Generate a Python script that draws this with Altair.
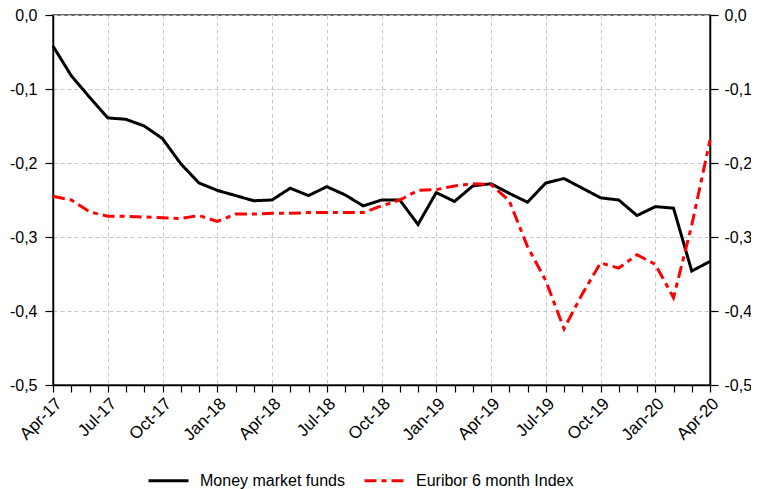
import altair as alt
import pandas as pd

months = ["Apr-17", "May-17", "Jun-17", "Jul-17", "Aug-17", "Sep-17", "Oct-17", "Nov-17", "Dec-17",
          "Jan-18", "Feb-18", "Mar-18", "Apr-18", "May-18", "Jun-18", "Jul-18", "Aug-18", "Sep-18",
          "Oct-18", "Nov-18", "Dec-18", "Jan-19", "Feb-19", "Mar-19", "Apr-19", "May-19", "Jun-19",
          "Jul-19", "Aug-19", "Sep-19", "Oct-19", "Nov-19", "Dec-19", "Jan-20", "Feb-20", "Mar-20",
          "Apr-20"]

money_market = [-0.042, -0.082, -0.111, -0.139, -0.141, -0.150, -0.167, -0.201, -0.227,
                -0.237, -0.244, -0.251, -0.250, -0.234, -0.244, -0.232, -0.243, -0.258,
                -0.250, -0.250, -0.283, -0.240, -0.252, -0.231, -0.228, -0.241, -0.253,
                -0.227, -0.221, -0.234, -0.247, -0.250, -0.271, -0.259, -0.261, -0.346,
                -0.333]

euribor = [-0.245, -0.250, -0.266, -0.272, -0.272, -0.273, -0.274, -0.275, -0.271,
           -0.279, -0.269, -0.269, -0.268, -0.268, -0.267, -0.267, -0.267, -0.267,
           -0.258, -0.250, -0.237, -0.236, -0.231, -0.228, -0.229, -0.251, -0.313,
           -0.359, -0.424, -0.377, -0.335, -0.342, -0.324, -0.337, -0.382, -0.284,
           -0.169]

series_names = ["Money market funds", "Euribor 6 month Index"]
series_colors = ["#000000", "#ff0000"]
series_dashes = [[1, 0], [12, 5, 5, 5]]
y_ticks = [-0.5, -0.4, -0.3, -0.2, -0.1, 0.0]

rows = []
for name, vals in zip(series_names, [money_market, euribor]):
    for m, v in zip(months, vals):
        rows.append({"month": m, "series": name, "value": v})
df = pd.DataFrame(rows)

quarter_test = "indexof(['Jan','Apr','Jul','Oct'], slice(datum.value, 0, 3)) >= 0"
ylabel = ("datum.value < -0.00001 ? '-' + replace(format(-datum.value, '.1f'), '.', ',') "
          ": replace(format(abs(datum.value), '.1f'), '.', ',')")

yscale = alt.Scale(domain=[-0.5, 0], nice=False, zero=False)
xscale = alt.Scale(type="point", padding=0)

x_axis = alt.Axis(
    title=None,
    orient="bottom",
    labelAngle=315,
    labelFontSize=17,
    labelExpr=f"{quarter_test} ? datum.value : ''",
    grid=True,
    gridDash=[4, 3],
    gridColor="#c8c8c8",
    gridOpacity={"condition": {"test": quarter_test, "value": 1}, "value": 0},
    tickSize=7,
    labelPadding=3,
    labelOverlap=False,
)

legend = alt.Legend(
    title=None,
    orient="none",
    legendX=94,
    legendY=444,
    direction="horizontal",
    symbolType="stroke",
    symbolSize=1600,
    symbolStrokeWidth=3,
    labelFontSize=16,
    labelFont="Liberation Sans",
    labelColor="#000000",
    columnPadding=13,
    labelOffset=10,
    padding=0,
)

base = alt.Chart(df)

x_enc = alt.X("month:O", sort=months, scale=xscale, axis=x_axis)

lines = base.mark_line(strokeWidth=3).encode(
    x=x_enc,
    y=alt.Y("value:Q", scale=yscale,
            axis=alt.Axis(orient="left", grid=True, gridDash=[4, 3], gridColor="#c8c8c8",
                          title=None, values=y_ticks, labelExpr=ylabel,
                          tickSize=8, labelPadding=8)),
    color=alt.Color("series:N", scale=alt.Scale(domain=series_names, range=series_colors),
                    sort=series_names, legend=legend),
    strokeDash=alt.StrokeDash("series:N", scale=alt.Scale(domain=series_names, range=series_dashes),
                              sort=series_names, legend=legend),
)

right = base.mark_line(opacity=0).encode(
    x=x_enc,
    y=alt.Y("value:Q", scale=yscale,
            axis=alt.Axis(orient="right", grid=False, title=None, values=y_ticks,
                          labelExpr=ylabel, tickSize=8, labelPadding=6)),
    detail="series:N",
)

chart = (
    alt.layer(lines, right)
    .resolve_axis(y="independent")
    .properties(
        width=657,
        height=370,
        autosize=alt.AutoSizeParams(type="none"),
        padding={"left": 45, "top": 7, "right": 41, "bottom": 104},
    )
    .configure_view(stroke="#333333", strokeWidth=1.5)
    .configure_axis(
        labelFont="Liberation Sans",
        labelFontSize=16,
        labelColor="#000000",
        domainColor="#000000",
        domainWidth=1.5,
        tickColor="#000000",
        tickWidth=1.2,
    )
)

chart.save("out.html", embed_options={"renderer": "svg", "actions": False})
